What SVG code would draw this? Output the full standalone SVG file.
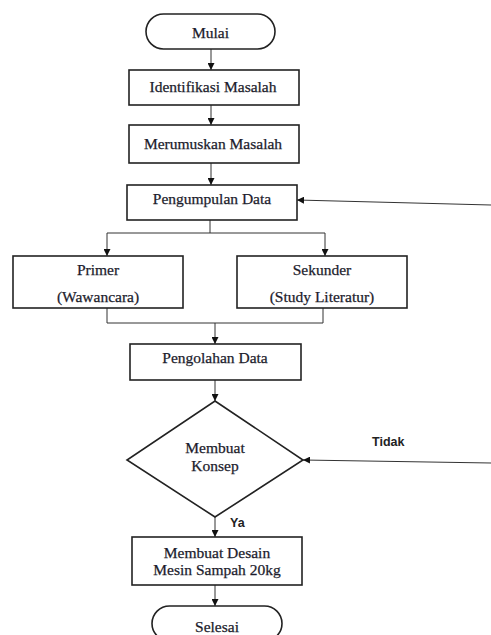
<svg xmlns="http://www.w3.org/2000/svg" width="491" height="635" viewBox="0 0 491 635">
<defs>
<marker id="ah" viewBox="0 0 10 10" refX="10" refY="5" markerWidth="7" markerHeight="7" orient="auto" markerUnits="userSpaceOnUse">
<path d="M0,0 L10,5 L0,10 z" fill="#111"/>
</marker>
</defs>
<style>
.box{fill:#fff;stroke:#222;stroke-width:1.6}
.t{font-family:"Liberation Serif","Times New Roman",serif;font-size:15.5px;fill:#1c1c2c;stroke:#1c1c2c;stroke-width:0.25;text-anchor:middle;dominant-baseline:central}
.s{font-family:"Liberation Sans",Arial,sans-serif;font-size:12.5px;font-weight:bold;fill:#222;dominant-baseline:central}
.c{fill:none;stroke:#333;stroke-width:1}
.ca{fill:none;stroke:#333;stroke-width:1;marker-end:url(#ah)}
</style>
<rect width="491" height="635" fill="#fff"/>
<g id="connectors">
<line class="ca" x1="211" y1="49" x2="211" y2="70"/>
<line class="ca" x1="211" y1="105" x2="211" y2="125"/>
<line class="ca" x1="211" y1="163" x2="211" y2="185"/>
<line class="ca" x1="491" y1="205" x2="297" y2="200"/>
<polyline class="c" points="210,220 210,233 107,233"/>
<line class="c" x1="210" y1="233" x2="325" y2="233"/>
<line class="ca" x1="107" y1="233" x2="107" y2="256"/>
<line class="ca" x1="325" y1="233" x2="325" y2="256"/>
<polyline class="c" points="107,308 107,323 323,323 323,308"/>
<line class="ca" x1="215" y1="323" x2="215" y2="344"/>
<line class="ca" x1="215" y1="380" x2="215" y2="401"/>
<line class="ca" x1="491" y1="463" x2="303" y2="460"/>
<line class="ca" x1="215" y1="517" x2="215" y2="537"/>
<line class="ca" x1="215" y1="585" x2="215" y2="606"/>
<text class="s" x="372" y="442">Tidak</text>
<text class="s" x="230" y="523">Ya</text>
</g>
<g id="mulai">
<rect class="box" x="146" y="14" width="129" height="35" rx="17.5"/>
<text class="t" x="210.5" y="32">Mulai</text>
</g>
<g id="identifikasi">
<rect class="box" x="129" y="70" width="170" height="35"/>
<text class="t" x="213" y="86">Identifikasi Masalah</text>
</g>
<g id="merumuskan">
<rect class="box" x="129" y="125" width="170" height="38"/>
<text class="t" x="213" y="143">Merumuskan Masalah</text>
</g>
<g id="pengumpulan">
<rect class="box" x="127" y="185" width="170" height="35"/>
<text class="t" x="212" y="198">Pengumpulan Data</text>
</g>
<g id="primer">
<rect class="box" x="13" y="256" width="170" height="52"/>
<text class="t" x="98" y="269">Primer</text>
<text class="t" x="98" y="296">(Wawancara)</text>
</g>
<g id="sekunder">
<rect class="box" x="237" y="256" width="170" height="52"/>
<text class="t" x="322" y="269">Sekunder</text>
<text class="t" x="322" y="296">(Study Literatur)</text>
</g>
<g id="pengolahan">
<rect class="box" x="130" y="344" width="171" height="36"/>
<text class="t" x="215" y="357">Pengolahan Data</text>
</g>
<g id="konsep">
<polygon class="box" points="215,401 303,460 215,517 127,460"/>
<text class="t" x="215" y="447">Membuat</text>
<text class="t" x="215" y="465">Konsep</text>
</g>
<g id="desain">
<rect class="box" x="132" y="537" width="170" height="48"/>
<text class="t" x="217" y="552">Membuat Desain</text>
<text class="t" x="217" y="569">Mesin Sampah 20kg</text>
</g>
<g id="selesai">
<rect class="box" x="152" y="606" width="130" height="35" rx="17.5"/>
<text class="t" x="217" y="626">Selesai</text>
</g>
</svg>
